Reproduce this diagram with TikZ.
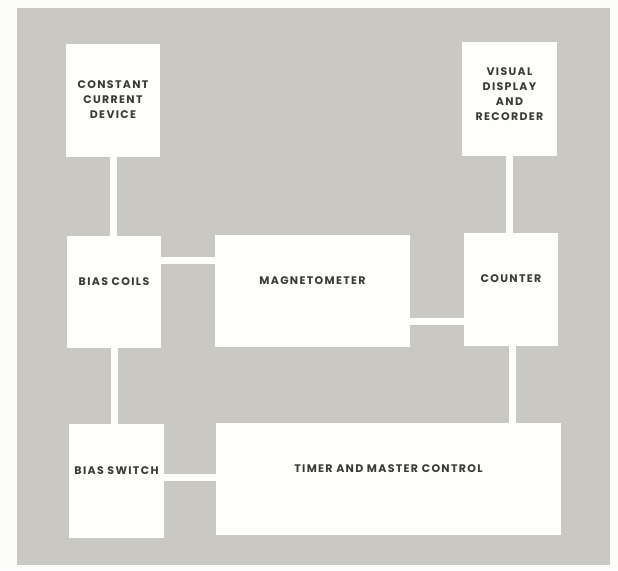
\documentclass[tikz,border=0pt]{standalone}
\usepackage{fontspec}
\setmainfont{Poppins}[LetterSpace=12]
\definecolor{paper}{HTML}{FCFCFA}
\definecolor{panel}{HTML}{C9C8C3}
\definecolor{boxfill}{HTML}{FEFEFD}
\definecolor{ink}{HTML}{3A3A38}
\begin{document}
\begin{tikzpicture}[x=1pt,y=-1pt,
  blk/.style={draw=none,fill=boxfill,inner sep=0pt,rectangle},
  lbl/.style={font=\fontsize{11}{15}\selectfont\bfseries,text=ink,align=center,inner sep=0pt},
  wire/.style={draw=boxfill,line width=7pt}]
\useasboundingbox (0,0) rectangle (618,570);
\fill[paper] (0,0) rectangle (618,570);
\fill[panel] (17,8) rectangle (610,565);
% boxes
\node[blk,minimum width=94,minimum height=113] (ccd) at (113,100.5) {};
\node[blk,minimum width=95,minimum height=114] (vdr) at (509.5,99) {};
\node[blk,minimum width=94,minimum height=112] (bc) at (114,292) {};
\node[blk,minimum width=195,minimum height=112] (mag) at (312.5,291) {};
\node[blk,minimum width=94,minimum height=113] (cnt) at (511,289.5) {};
\node[blk,minimum width=95,minimum height=114] (bs) at (116.5,481) {};
\node[blk,minimum width=345,minimum height=112] (tmr) at (388.5,479) {};
% labels
\node[lbl] (tccd) at (113,100) {CONSTANT\\CURRENT\\DEVICE};
\node[lbl] (tvdr) at (509.5,94.5) {VISUAL\\DISPLAY\\AND\\RECORDER};
\node[lbl] (tbc) at (114,282) {BIAS COILS};
\node[lbl] (tmag) at (312.5,281) {MAGNETOMETER};
\node[lbl] (tcnt) at (511,279) {COUNTER};
\node[lbl] (tbs) at (116.5,471) {BIAS SWITCH};
\node[lbl] (ttmr) at (388.5,469) {TIMER AND MASTER CONTROL};
% connectors
\draw[wire] (ccd.south) -- (ccd.south |- bc.north);
\draw[wire] (bc.south) -- (bc.south |- bs.north);
\draw[wire] (bc.east |- 0,260) coordinate (a1) -- (mag.west |- a1);
\draw[wire] (mag.east |- 0,321) coordinate (a2) -- (cnt.west |- a2);
\draw[wire] (vdr.south) -- (vdr.south |- cnt.north);
\draw[wire] (cnt.south) ++(1,0) coordinate (c1) -- (c1 |- tmr.north);
\draw[wire] (bs.east |- 0,477) coordinate (a3) -- (tmr.west |- a3);
\end{tikzpicture}
\end{document}
